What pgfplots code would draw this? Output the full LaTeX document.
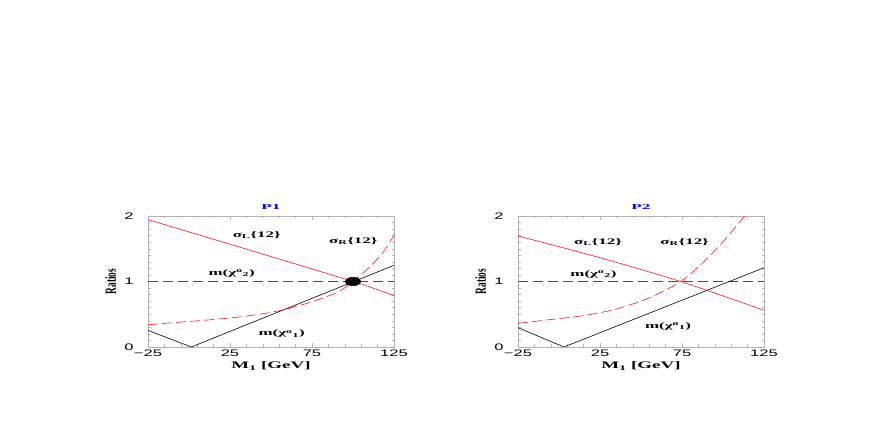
\documentclass[border=0pt]{standalone}
\usepackage{fontspec}
\setmainfont{Liberation Serif}
\setsansfont{Liberation Sans}
\newfontfamily\tickfont[FakeStretch=1.75]{Liberation Sans}
\newfontfamily\labfont[FakeStretch=1.9]{Liberation Serif}
\newfontfamily\annfont[FakeStretch=2.0]{Liberation Serif}
\newfontfamily\titfont[FakeStretch=2.3]{Liberation Serif}
\newfontfamily\narrowfont[FakeStretch=0.6]{Liberation Serif}
\usepackage{pgfplots}
\pgfplotsset{compat=1.18}
\definecolor{lineRed}{RGB}{255,20,20}
\definecolor{titleBlue}{RGB}{0,0,255}

\pgfplotsset{
  panel/.style={
    scale only axis,
    width=246bp, height=131bp,
    xmin=-25, xmax=125, ymin=0, ymax=2,
    xtick={-25,25,75,125},
    xticklabels={−25,25,75,125},
    ytick={0,1,2},
    minor x tick num=4,
    minor y tick num=9,
    axis line style={gray!60, line width=0.5pt},
    tick style={gray!60, line width=0.4pt},
    major tick length=4bp,
    minor tick length=2.5bp,
    tick align=inside,
    ticklabel style={font=\tickfont\fontsize{9.5}{10}\selectfont},
    /pgf/number format/assume math mode=true,
    xticklabel style={yshift=1bp},
    yticklabel style={xshift=-11bp},
    xlabel={M\textsubscript{1} [GeV]},
    xlabel style={at={(axis description cs:0.5,-0.145)}, anchor=center,
      font=\labfont\bfseries\fontsize{10}{11}\selectfont},
    ylabel={Ratios},
    ylabel style={at={(axis description cs:-0.152,0.5)}, anchor=center,
      font=\narrowfont\bfseries\fontsize{15.5}{16}\selectfont},
    title style={at={(axis description cs:0.5,1.02)}, anchor=center,
      font=\titfont\bfseries\fontsize{7.5}{8}\selectfont, text=titleBlue},
    every axis plot/.append style={line width=0.6pt},
    clip=true,
  },
}
\tikzset{lbl/.style={font=\annfont\bfseries\fontsize{8.5}{10}\selectfont, inner sep=0pt}}

\begin{document}
\begin{tikzpicture}
\path[use as bounding box] (0,0) rectangle (872bp,436bp);

% ---------- P1 ----------
\begin{axis}[panel, at={(148bp,89bp)}, anchor=south west, title={P1}]
% m(chi02)
\addplot[black!70, line width=0.5pt, dash pattern=on 10bp off 5bp] coordinates {(-25,1) (125,1)};
% m(chi01)
\addplot[black] coordinates {(-25,0.254) (1.4,0) (125,1.247)};
% sigma_L
\addplot[lineRed, smooth] coordinates {(-25,1.944) (37.5,1.475) (100,1.0) (125,0.784)};
% sigma_R
\addplot[lineRed, smooth, dash pattern=on 10bp off 4bp] coordinates {
  (-25,0.34) (-6.7,0.377) (13.6,0.417) (33.9,0.468) (54.3,0.55)
  (74.6,0.687) (90.9,0.84) (100,1.0) (111.2,1.247) (119.3,1.476) (125,1.705)};
% crossing point
\addplot[only marks, mark=*, mark size=4.2bp, mark options={xscale=1.8, fill=black, draw=black}]
  coordinates {(100,1.0)};
\node[lbl] at (axis cs:41.3,1.71) {σ\textsubscript{L}\{12\}};
\node[lbl] at (axis cs:100.2,1.62) {σ\textsubscript{R}\{12\}};
\node[lbl] at (axis cs:26,1.125) {m(χ\textsuperscript{o}\textsubscript{2})};
\node[lbl] at (axis cs:56.5,0.2) {m(χ\textsuperscript{o}\textsubscript{1})};
\end{axis}

% ---------- P2 ----------
\begin{axis}[panel, at={(518bp,89bp)}, anchor=south west, title={P2}]
\addplot[black!70, line width=0.5pt, dash pattern=on 10bp off 5bp] coordinates {(-25,1) (125,1)};
\addplot[black] coordinates {(-25,0.295) (3,0) (125,1.21)};
\addplot[lineRed, smooth] coordinates {(-25,1.695) (24,1.37) (74.2,1.0) (125,0.56)};
\addplot[lineRed, smooth, dash pattern=on 10bp off 4bp] coordinates {
  (-25,0.36) (-5,0.42) (15,0.48) (35,0.58) (55,0.75)
  (74.2,1.0) (87,1.27) (99,1.58) (107,1.81) (113.2,2.0)};
\node[lbl] at (axis cs:23.8,1.6) {σ\textsubscript{L}\{12\}};
\node[lbl] at (axis cs:76.6,1.6) {σ\textsubscript{R}\{12\}};
\node[lbl] at (axis cs:21,1.11) {m(χ\textsuperscript{o}\textsubscript{2})};
\node[lbl] at (axis cs:66.5,0.31) {m(χ\textsuperscript{o}\textsubscript{1})};
\end{axis}
\end{tikzpicture}
\end{document}
